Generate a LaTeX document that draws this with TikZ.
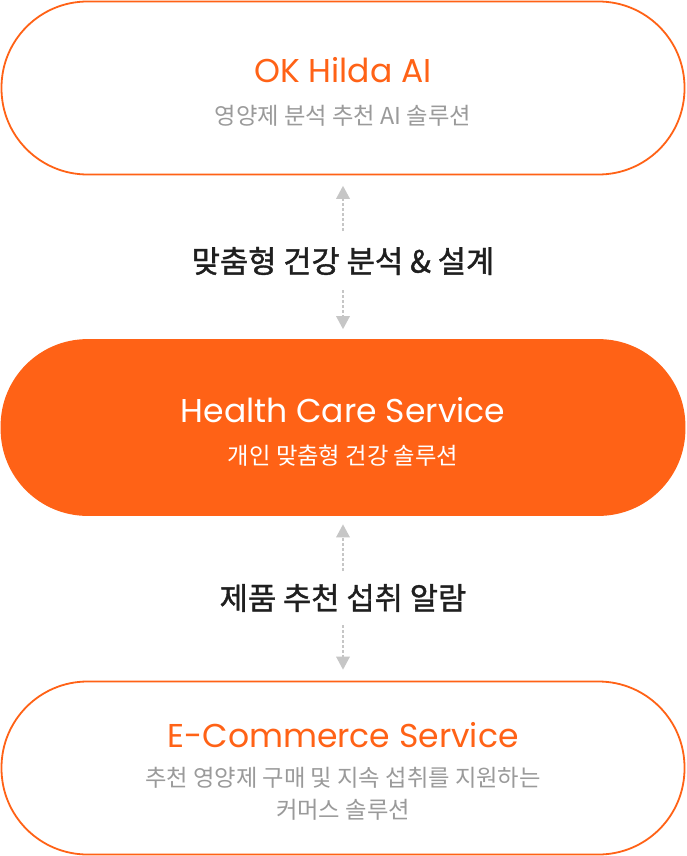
\documentclass[tikz,border=0pt]{standalone}
\usepackage{fontspec}
\setmainfont{Noto Sans CJK KR}
\newfontfamily\latinfont{Poppins}
\newfontfamily\labfont[FakeBold=1.3]{Noto Sans CJK KR}
\usetikzlibrary{arrows.meta,calc}
\definecolor{brand}{HTML}{FF6216}
\definecolor{subgray}{HTML}{9A9A9A}
\definecolor{dotgray}{HTML}{C6C6C6}
\definecolor{labeldark}{HTML}{1F1F1F}
\tikzset{
  pill/.style={rectangle, rounded corners=86pt, minimum width=683pt, minimum height=173pt, line width=1.8pt, inner sep=0pt},
  titletext/.style={font=\latinfont\fontsize{33}{40}\selectfont, inner sep=0pt},
  subtext/.style={font=\fontsize{23.3}{32}\selectfont, text=subgray, inner sep=0pt, align=center},
  labtext/.style={font=\labfont\fontsize{30.7}{36}\selectfont, text=labeldark, inner sep=0pt},
  dotarrow/.style={draw=dotgray, line width=2.6pt, dash pattern=on 2.6pt off 2.4pt,
    -{Triangle[width=14pt,length=13pt,line width=0pt,fill=dotgray]}}
}
\begin{document}
\begin{tikzpicture}[x=1pt,y=-1pt]
\useasboundingbox (0,0) rectangle (686,856);
\fill[white] (0,0) rectangle (686,856);
% boxes
\node[pill, draw=brand] (ai) at (343,88) {};
\node[pill, draw=brand, fill=brand, minimum height=175pt] (hc) at (343,427.5) {};
\node[pill, draw=brand] (ec) at (343,768) {};
% texts
\node[titletext, text=brand] (aiT) at (343,70) {OK Hilda AI};
\node[subtext] (aiS) at (343,116) {영양제 분석 추천 AI 솔루션};
\node[labtext] (l1) at (343,261) {맞춤형 건강 분석 \& 설계};
\node[titletext, text=white] (hcT) at (343,410) {Health Care Service};
\node[subtext, text=white] (hcS) at (343,456) {개인 맞춤형 건강 솔루션};
\node[labtext] (l2) at (343,598) {제품 추천 섭취 알람};
\node[titletext, text=brand] (ecT) at (343,735) {E-Commerce Service};
\node[subtext] (ecS) at (343,794) {추천 영양제 구매 및 지속 섭취를 지원하는\\커머스 솔루션};
% connectors
\coordinate (u1) at (343,231);
\coordinate (d1) at (343,290);
\coordinate (u2) at (343,571);
\coordinate (d2) at (343,625);
\draw[dotarrow] (u1) -- ([yshift=-10.5pt]ai.south);
\draw[dotarrow] (d1) -- ([yshift=10pt]hc.north);
\draw[dotarrow] (u2) -- ([yshift=-8.5pt]hc.south);
\draw[dotarrow] (d2) -- ([yshift=11pt]ec.north);
\end{tikzpicture}
\end{document}
